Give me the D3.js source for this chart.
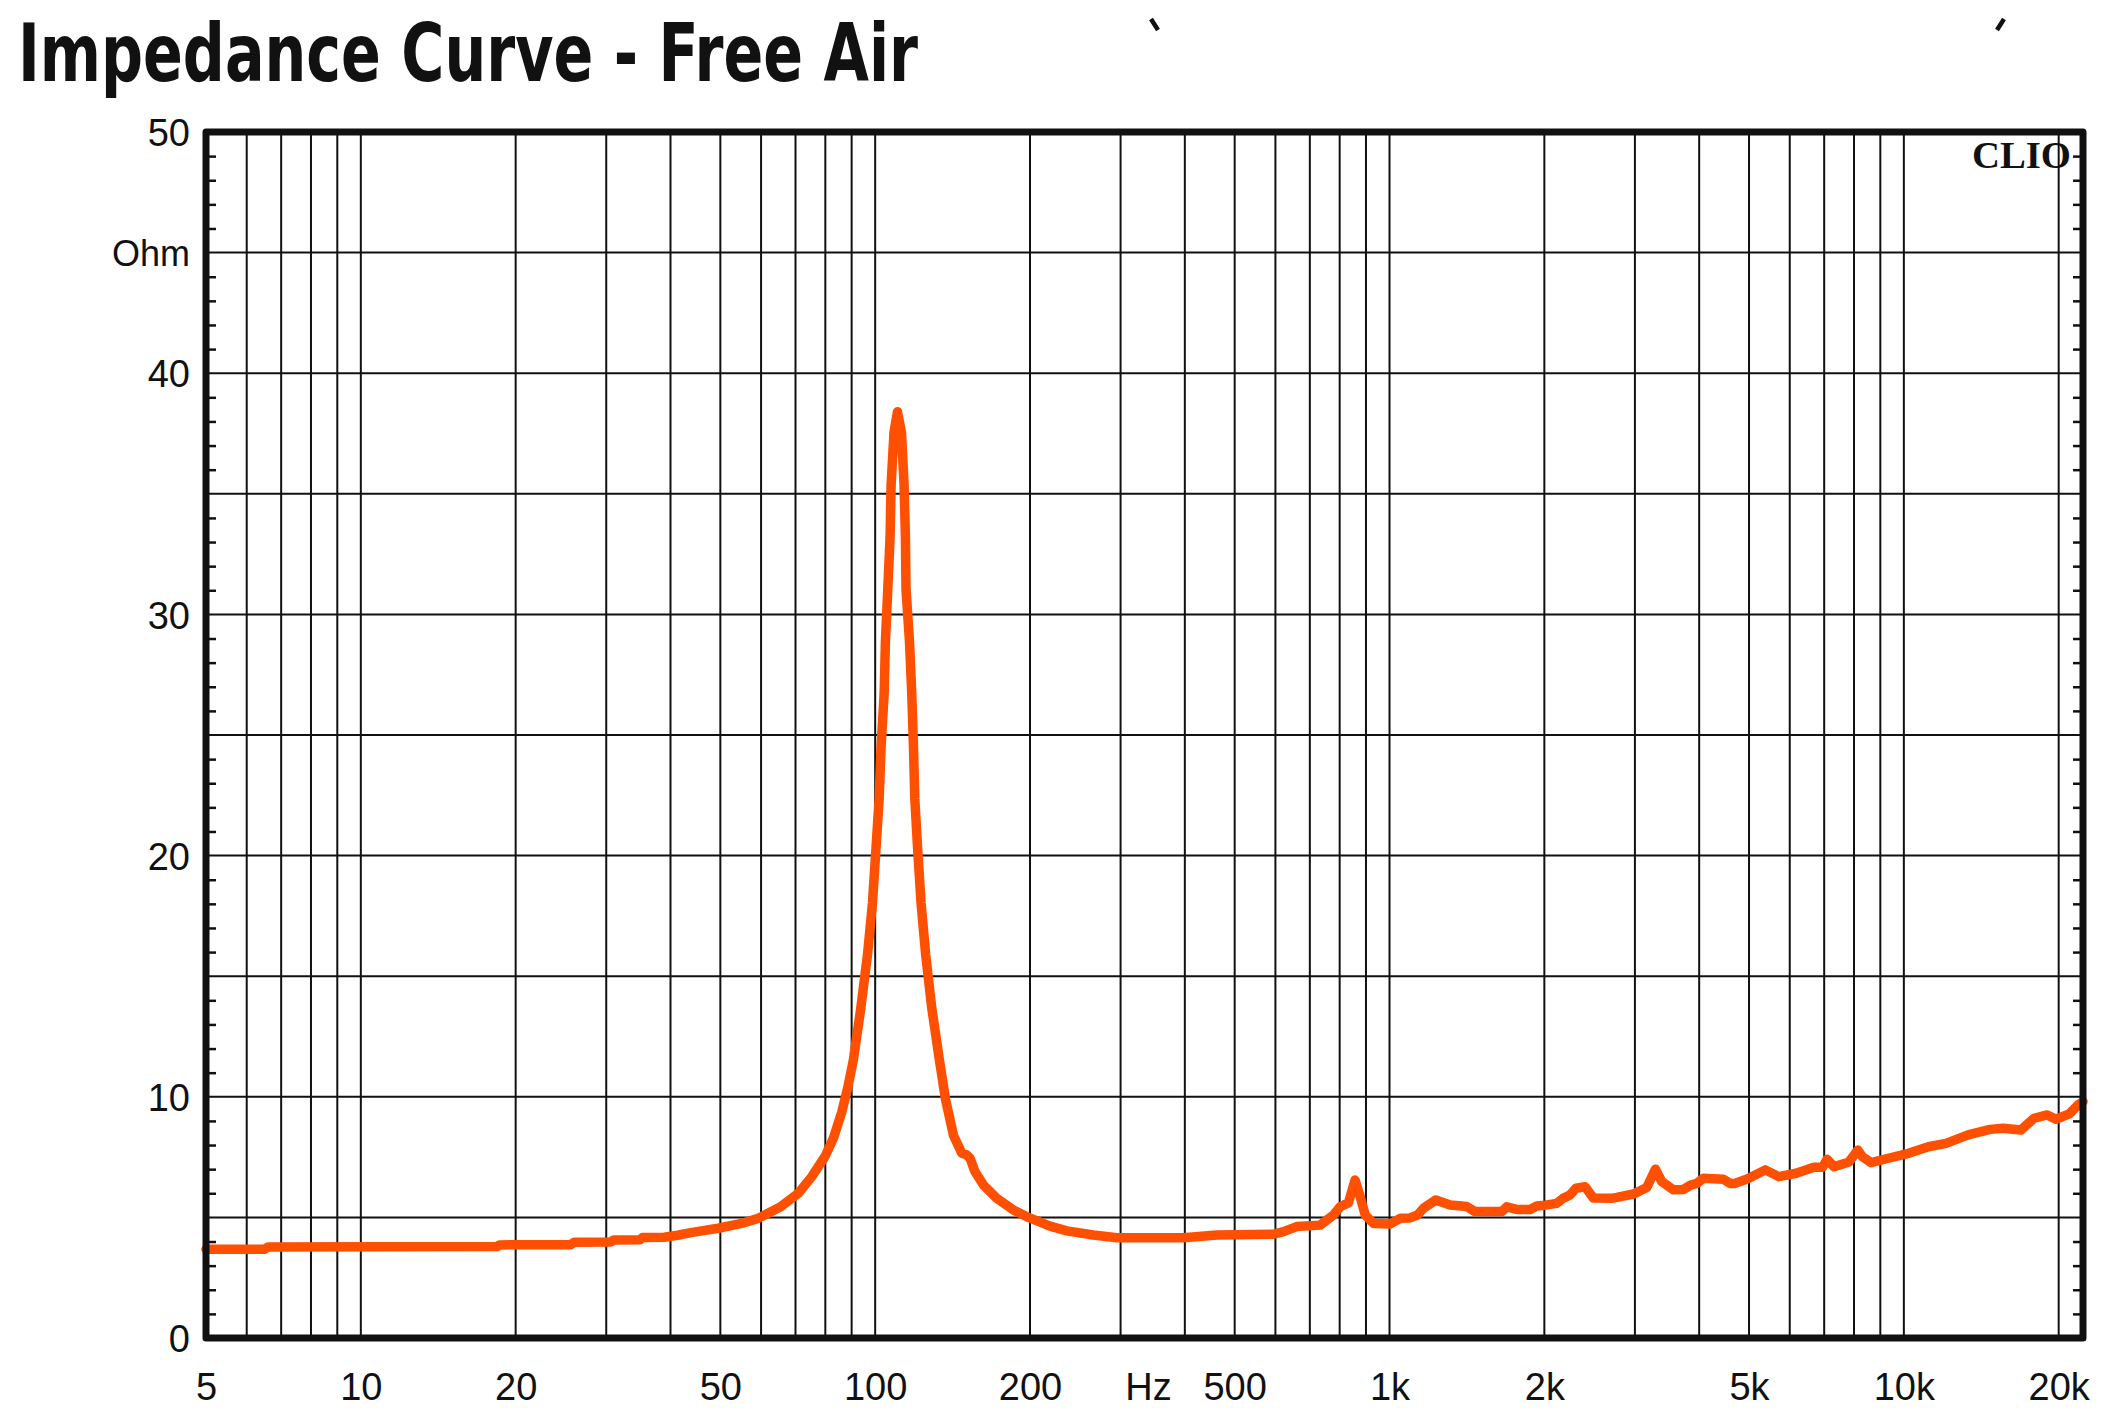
<!DOCTYPE html>
<html>
<head>
<meta charset="utf-8">
<script src="https://cdn.jsdelivr.net/npm/d3@7"></script>
<style>
  body { margin: 0; background: #fff; }
  svg { display: block; }
</style>
</head>
<body>
<div id="chart"></div>
<script>
// frequency (Hz) and impedance (Ohm)
var freqs = [5, 6.5, 6.6, 18.4, 18.6, 25.6, 26, 30.6, 31, 34.9, 35.3, 38.9, 41.3, 43.8, 49.5, 55, 59.2, 65.5, 70.9, 75.3,
  80, 83, 86.1, 88.5, 90.7, 93.8, 96.6, 98.8, 100.3, 101.8, 102.7, 104.1, 104.7, 105.8, 106.9, 107.4, 108.8, 110.5,
  112.5, 113.8, 114.5, 114.8, 116.6, 117.8, 118.7, 119.4, 121, 122.8, 125.4, 128.8, 133.3, 137, 142, 147.4, 150.5,
  153, 156.3, 162.4, 172.4, 185.6, 198.6, 218.8, 235.8, 265.6, 295, 397.6, 461.6, 594.8, 621.9, 660, 733, 778,
  801.7, 832, 857, 877, 897, 931, 1003, 1049, 1096, 1134, 1164, 1230, 1312, 1413, 1466, 1653, 1690, 1767, 1876,
  1933, 2009, 2114, 2174, 2244, 2305, 2400, 2492, 2700, 2767, 2981, 3164, 3288, 3385, 3560, 3729, 3850, 3959,
  4078, 4459, 4594, 4688, 4973, 5379, 5709, 6176, 6681, 6950, 7090, 7315, 7824, 8138, 8305, 8636, 9163, 10110,
  11160, 12075, 13330, 14710, 15600, 16880, 17910, 19000, 19760, 20970, 21800, 22300];
var ohms = [3.68, 3.68, 3.77, 3.79, 3.86, 3.87, 3.97, 3.98, 4.06, 4.07, 4.17, 4.18, 4.26, 4.37, 4.55, 4.75, 4.96, 5.44, 6.0, 6.69,
  7.55, 8.3, 9.36, 10.4, 11.53, 13.7, 15.87, 18.03, 20.2, 22.37, 24.54, 26.71, 28.88, 31.04, 33.21, 35.38, 37.55, 38.4,
  37.55, 35.38, 33.21, 31.04, 28.88, 26.71, 24.54, 22.37, 20.2, 18.03, 15.87, 13.7, 11.53, 9.9, 8.4, 7.66, 7.6,
  7.45, 6.9, 6.34, 5.79, 5.31, 5.0, 4.64, 4.44, 4.27, 4.16, 4.16, 4.27, 4.3, 4.41, 4.62, 4.68, 5.1,
  5.44, 5.6, 6.55, 5.86, 5.1, 4.75, 4.73, 4.96, 4.98, 5.1, 5.38, 5.72, 5.51, 5.45, 5.24, 5.24, 5.44, 5.33, 5.33,
  5.47, 5.51, 5.58, 5.79, 5.93, 6.21, 6.27, 5.8, 5.79, 5.83, 5.97, 6.24, 7.0, 6.48, 6.15, 6.16, 6.34, 6.41,
  6.62, 6.58, 6.41, 6.41, 6.6, 6.97, 6.69, 6.83, 7.08, 7.08, 7.41, 7.1, 7.3, 7.79, 7.52, 7.27, 7.41, 7.63,
  7.93, 8.07, 8.42, 8.65, 8.7, 8.62, 9.11, 9.25, 9.07, 9.29, 9.66, 9.8];

var xTickValues = [5, 10, 20, 50, 100, 200, 500, 1000, 2000, 5000, 10000, 20000];
var xTickLabels = ["5", "10", "20", "50", "100", "200", "500", "1k", "2k", "5k", "10k", "20k"];
var yTickValues = [0, 10, 20, 30, 40, 50];
var titleText = "Impedance Curve - Free Air";

var width = 2108, height = 1421;
var margin = { top: 132, right: 25, bottom: 83, left: 206 };

var svg = d3.select("#chart").append("svg")
  .attr("width", width)
  .attr("height", height);

var x = d3.scaleLog().domain([5, 22300]).range([margin.left, width - margin.right]);
var y = d3.scaleLinear().domain([0, 50]).range([height - margin.bottom, margin.top]);

var data = freqs.map(function (f, i) { return { f: f, z: ohms[i] }; });

// title + stray glyph bits at the top edge
svg.append("text")
  .attr("x", 18)
  .attr("y", 81)
  .attr("textLength", 900)
  .attr("lengthAdjust", "spacingAndGlyphs")
  .style("font-family", "'Liberation Sans Narrow', 'DejaVu Sans Condensed', Roboto, sans-serif")
  .style("font-weight", "bold")
  .style("font-size", "80px")
  .style("fill", "#111")
  .text(titleText);

svg.append("line").attr("x1", 1151).attr("y1", 19).attr("x2", 1158).attr("y2", 30)
  .style("stroke", "#111").style("stroke-width", 4.5);
svg.append("line").attr("x1", 2004).attr("y1", 19).attr("x2", 1997).attr("y2", 30)
  .style("stroke", "#111").style("stroke-width", 4.5);

// vertical log grid
var gridFreqs = [];
[1, 10, 100, 1000, 10000].forEach(function (d) {
  for (var k = 1; k <= 9; k++) {
    var f = k * d;
    if (f > 5 && f < 22300) gridFreqs.push(f);
  }
});

svg.append("g")
  .selectAll("line")
  .data(gridFreqs)
  .enter()
  .append("line")
  .attr("x1", function (d) { return x(d); })
  .attr("x2", function (d) { return x(d); })
  .attr("y1", y(50))
  .attr("y2", y(0))
  .style("stroke", "#111")
  .style("stroke-width", 2);

svg.append("g")
  .selectAll("line")
  .data(d3.range(5, 50, 5))
  .enter()
  .append("line")
  .attr("x1", x.range()[0])
  .attr("x2", x.range()[1])
  .attr("y1", function (d) { return y(d); })
  .attr("y2", function (d) { return y(d); })
  .style("stroke", "#111")
  .style("stroke-width", 2);

// small inner ticks every 1 ohm on both sides
var minorTicks = d3.range(1, 50).filter(function (d) { return d % 5 != 0; });

var leftTicks = svg.append("g")
  .attr("transform", "translate(" + x.range()[0] + ",0)")
  .call(d3.axisLeft(y).tickValues(minorTicks).tickSize(-10).tickFormat(""));
var rightTicks = svg.append("g")
  .attr("transform", "translate(" + x.range()[1] + ",0)")
  .call(d3.axisRight(y).tickValues(minorTicks).tickSize(-10).tickFormat(""));
[leftTicks, rightTicks].forEach(function (g) {
  g.select(".domain").remove();
  g.selectAll("line").style("stroke", "#111").style("stroke-width", 2.5);
});

// the impedance curve
var line = d3.line()
  .x(function (d) { return x(d.f); })
  .y(function (d) { return y(d.z); });

svg.append("path")
  .datum(data)
  .attr("d", line)
  .style("fill", "none")
  .style("stroke", "#ff4f00")
  .style("stroke-width", 9.5)
  .style("stroke-linejoin", "round")
  .style("stroke-linecap", "round");

// frame
svg.append("rect")
  .attr("x", x.range()[0])
  .attr("y", y(50))
  .attr("width", x.range()[1] - x.range()[0])
  .attr("height", y(0) - y(50))
  .style("fill", "none")
  .style("stroke", "#111")
  .style("stroke-width", 7)
  .style("stroke-linejoin", "round");

// axis labels
var labelFont = "'Liberation Sans', Arial, sans-serif";

var xAxis = svg.append("g")
  .attr("transform", "translate(0," + y(0) + ")")
  .call(d3.axisBottom(x).tickValues(xTickValues).tickSize(0).tickPadding(0)
    .tickFormat(function (d, i) { return xTickLabels[i]; }));
xAxis.select(".domain").remove();
xAxis.selectAll("text")
  .attr("y", 62)
  .attr("dy", null)
  .style("font-family", labelFont)
  .style("font-size", "38px")
  .style("fill", "#111");

var yAxis = svg.append("g")
  .attr("transform", "translate(" + x.range()[0] + ",0)")
  .call(d3.axisLeft(y).tickValues(yTickValues).tickSize(0).tickPadding(16));
yAxis.select(".domain").remove();
yAxis.selectAll("text")
  .attr("dy", "0.36em")
  .style("font-family", labelFont)
  .style("font-size", "38px")
  .style("fill", "#111");

svg.append("text")
  .attr("x", x.range()[0] - 16)
  .attr("y", y(45))
  .attr("dy", "0.36em")
  .attr("text-anchor", "end")
  .style("font-family", labelFont)
  .style("font-size", "36px")
  .style("fill", "#111")
  .text("Ohm");

svg.append("text")
  .attr("x", x(340))
  .attr("y", y(0) + 62)
  .attr("text-anchor", "middle")
  .style("font-family", labelFont)
  .style("font-size", "38px")
  .style("fill", "#111")
  .text("Hz");

svg.append("text")
  .attr("x", 1972)
  .attr("y", 168)
  .attr("textLength", 99)
  .attr("lengthAdjust", "spacingAndGlyphs")
  .style("font-family", "'Liberation Serif', 'DejaVu Serif', serif")
  .style("font-weight", "bold")
  .style("font-size", "38px")
  .style("fill", "#111")
  .text("CLIO");
</script>
</body>
</html>
